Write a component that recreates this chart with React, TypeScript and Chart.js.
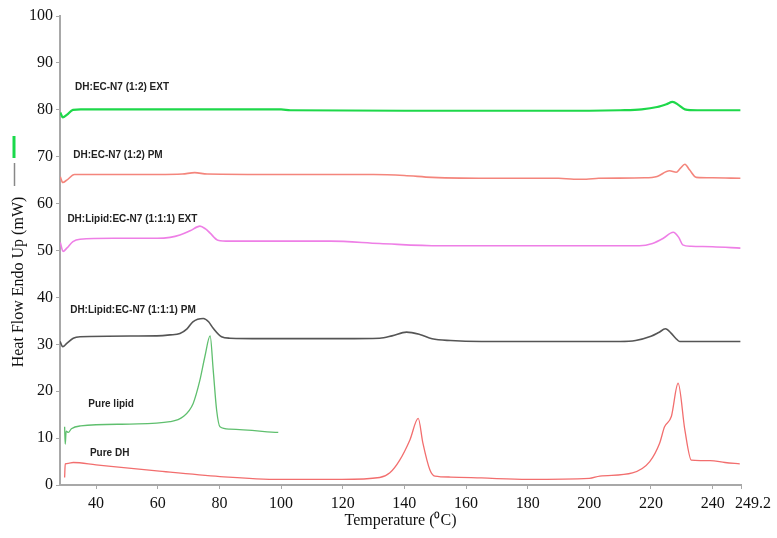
import React, { useEffect, useRef } from "react";
import { Chart, registerables } from "chart.js";

Chart.register(...registerables);

// ---- data (Temperature °C, Heat flow mW) ----
const extT = [28.4, 29.2, 30.5, 32.5, 35, 60, 80, 100, 103, 140, 180, 200, 210, 217, 222, 225, 227, 229, 231, 235, 249];
const extV = [79.4, 78.4, 78.9, 80.0, 80.1, 80.1, 80.1, 80.1, 79.9, 79.8, 79.8, 79.8, 79.9, 80.1, 80.6, 81.2, 81.7, 81.0, 80.1, 79.9, 79.9];

const pmT = [28.4, 29.2, 30.5, 33, 60, 68, 72, 76, 100, 130, 140, 149, 171, 190, 195, 199, 203, 218, 222, 226, 228.2, 229.5, 231, 232.5, 234.7, 240, 249];
const pmV = [65.7, 64.5, 65.0, 66.2, 66.2, 66.3, 66.6, 66.3, 66.2, 66.2, 66.0, 65.6, 65.4, 65.4, 65.2, 65.2, 65.4, 65.5, 65.8, 67.0, 66.7, 67.5, 68.4, 67.2, 65.6, 65.5, 65.4];

const lipExtT = [28.4, 29.3, 30.5, 32.5, 34.8, 45.5, 59.8, 64, 67.2, 70.5, 73.7, 75.5, 77, 79.5, 83.4, 100, 116, 132, 151.5, 180, 216.3, 220.5, 224, 227.2, 229, 230.3, 233, 240, 249];
const lipExtV = [51.7, 49.8, 50.5, 51.9, 52.4, 52.6, 52.6, 52.8, 53.3, 54.2, 55.2, 54.6, 53.7, 52.2, 52.0, 52.0, 52.0, 51.5, 51.0, 51.0, 51.0, 51.5, 52.6, 53.9, 52.8, 51.2, 50.9, 50.8, 50.5];

const lipPmT = [28.3, 29.2, 30.5, 32.6, 34.8, 59.7, 64, 67.2, 69.5, 71.4, 74.8, 76.5, 78, 80.7, 83.4, 94, 120, 132, 136, 140.7, 145, 149, 155, 165, 210, 215, 220, 222.5, 224.7, 226.5, 228, 229.3, 249];
const lipPmV = [30.6, 29.5, 30.2, 31.3, 31.6, 31.8, 32.0, 32.3, 33.3, 34.8, 35.5, 34.8, 33.4, 31.6, 31.3, 31.2, 31.2, 31.3, 31.8, 32.6, 32.1, 31.2, 30.8, 30.6, 30.6, 30.8, 31.7, 32.5, 33.3, 32.4, 31.3, 30.6, 30.6];

const lipidT = [29.8, 30.0, 30.3, 31, 32, 35, 51, 64, 68.3, 71.5, 73.7, 75.3, 77, 78, 79.1, 80.2, 83.4, 99.1];
const lipidV = [12.4, 8.7, 11.5, 11.2, 12.0, 12.6, 13.0, 13.5, 14.6, 17.4, 22.4, 27.4, 31.8, 24.5, 16.0, 12.4, 11.9, 11.2];

const dhT = [29.8, 30.0, 31, 32.6, 40, 59.7, 80.2, 99.6, 119.7, 132, 135.3, 138.5, 141.8, 144.5, 146, 148.3, 149.9, 155, 165, 180, 200, 203.4, 214, 219.6, 222.8, 224.4, 226.6, 228.8, 231, 233.1, 236, 239.2, 244, 248.8];
const dhV = [1.6, 4.5, 4.6, 4.8, 4.3, 3.0, 1.8, 1.2, 1.2, 1.6, 2.6, 5.3, 9.6, 14.2, 9.0, 3.2, 1.9, 1.7, 1.5, 1.2, 1.4, 1.9, 2.6, 5.0, 8.9, 12.4, 14.6, 21.7, 11.7, 5.3, 5.2, 5.2, 4.8, 4.5];

const xTickValues = [40, 60, 80, 100, 120, 140, 160, 180, 200, 220, 240, 249.2];
const yTickValues = [0, 10, 20, 30, 40, 50, 60, 70, 80, 90, 100];

const curveNames = [
  "DH:EC-N7 (1:2) EXT",
  "DH:EC-N7 (1:2) PM",
  "DH:Lipid:EC-N7 (1:1:1) EXT",
  "DH:Lipid:EC-N7 (1:1:1) PM",
  "Pure lipid",
  "Pure DH",
];
const labelT = [33.2, 32.6, 30.7, 31.6, 37.5, 38.0];
const labelV = [84.9, 70.4, 56.7, 37.2, 17.3, 6.8];

const toPts = (t: number[], v: number[]) => t.map((x, i) => ({ x, y: v[i] }));

const curveLabels = {
  id: "curveLabels",
  afterDatasetsDraw(chart: any) {
    const { ctx, scales } = chart;
    ctx.save();
    ctx.font = 'bold 10px "Liberation Sans", Arial, sans-serif';
    ctx.fillStyle = "#222";
    ctx.textBaseline = "middle";
    ctx.textAlign = "left";
    curveNames.forEach((n, i) => {
      ctx.fillText(n, scales.x.getPixelForValue(labelT[i]), scales.y.getPixelForValue(labelV[i]));
    });
    ctx.restore();
  },
};

const yTitle = {
  id: "yTitle",
  afterDraw(chart: any) {
    const { ctx } = chart;
    ctx.save();
    // legend marks
    ctx.strokeStyle = "#19d94a";
    ctx.lineWidth = 3;
    ctx.beginPath();
    ctx.moveTo(14, 136);
    ctx.lineTo(14, 158);
    ctx.stroke();
    ctx.strokeStyle = "#888";
    ctx.lineWidth = 1.5;
    ctx.beginPath();
    ctx.moveTo(14.5, 163);
    ctx.lineTo(14.5, 186);
    ctx.stroke();
    // title
    ctx.translate(19, 282);
    ctx.rotate(-Math.PI / 2);
    ctx.font = '16px "Liberation Serif", "Times New Roman", serif';
    ctx.fillStyle = "#111";
    ctx.textAlign = "center";
    ctx.textBaseline = "middle";
    ctx.fillText("Heat Flow Endo Up (mW)", 0, 0);
    ctx.restore();
  },
};

export default function App() {
  const ref = useRef<HTMLCanvasElement>(null);
  useEffect(() => {
    if (!ref.current) return;
    const mk = (label: string, t: number[], v: number[], color: string, w: number) => ({
      label,
      data: toPts(t, v),
      borderColor: color,
      backgroundColor: color,
      borderWidth: w,
      pointRadius: 0,
      cubicInterpolationMode: "monotone" as const,
      fill: false,
    });
    const chart = new Chart(ref.current, {
      type: "line",
      data: {
        datasets: [
          mk(curveNames[0], extT, extV, "#1ed84a", 2.2),
          mk(curveNames[1], pmT, pmV, "#f4857c", 1.6),
          mk(curveNames[2], lipExtT, lipExtV, "#ee7fe6", 1.6),
          mk(curveNames[3], lipPmT, lipPmV, "#555555", 1.6),
          mk(curveNames[4], lipidT, lipidV, "#5fbf6e", 1.3),
          mk(curveNames[5], dhT, dhV, "#f26e6e", 1.3),
        ],
      },
      options: {
        animation: false,
        responsive: false,
        devicePixelRatio: 1,
        layout: { padding: { top: 16, right: 36, left: 0, bottom: 8 } },
        plugins: { legend: { display: false }, tooltip: { enabled: false } },
        scales: {
          x: {
            type: "linear",
            min: 28.3,
            max: 249.2,
            afterBuildTicks: (s: any) => {
              s.ticks = xTickValues.map((value) => ({ value }));
            },
            afterFit: (s: any) => {
              s.height = 45;
            },
            border: { color: "#a8a8a8", width: 2 },
            grid: { drawOnChartArea: false, tickLength: 4, color: "#a8a8a8" },
            ticks: {
              autoSkip: false,
              maxRotation: 0,
              padding: 5,
              color: "#111",
              font: { family: '"Liberation Serif", "Times New Roman", serif', size: 16 },
              callback: (v: any) => (v === 249.2 ? "      249.2" : String(v)),
            },
            title: {
              display: true,
              text: "Temperature (\u2070C)",
              color: "#111",
              padding: { top: 0, bottom: 0 },
              font: { family: '"Liberation Serif", "Times New Roman", serif', size: 16 },
            },
          },
          y: {
            type: "linear",
            min: 0,
            max: 100,
            afterBuildTicks: (s: any) => {
              s.ticks = yTickValues.map((value) => ({ value }));
            },
            afterFit: (s: any) => {
              s.width = 60;
            },
            border: { color: "#a8a8a8", width: 2 },
            grid: { drawOnChartArea: false, tickLength: 4, color: "#a8a8a8" },
            ticks: {
              padding: 3,
              color: "#111",
              font: { family: '"Liberation Serif", "Times New Roman", serif', size: 16 },
            },
          },
        },
      },
      plugins: [curveLabels, yTitle],
    });
    return () => chart.destroy();
  }, []);
  return (
    <div style={{ position: "absolute", left: 0, top: 0, width: 777, height: 538, background: "#fff" }}>
      <canvas ref={ref} width={777} height={538} />
    </div>
  );
}
